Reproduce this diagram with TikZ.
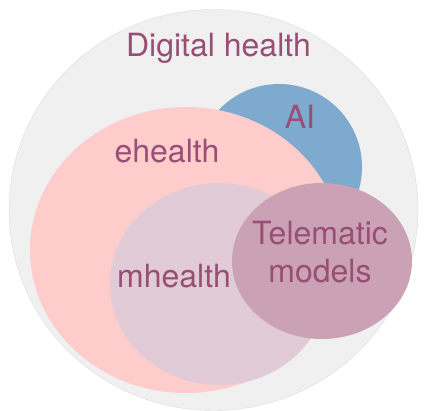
\documentclass[tikz,border=0pt]{standalone}
\usepackage{fontspec}
\setmainfont{TeX Gyre Heros}
\usetikzlibrary{shapes,positioning}
\definecolor{dhgray}{RGB}{240,240,240}
\definecolor{dhedge}{RGB}{220,220,220}
\definecolor{aiblue}{RGB}{126,170,207}
\definecolor{ehpink}{RGB}{255,204,204}
\definecolor{mhmauve}{RGB}{224,203,214}
\definecolor{tmrose}{RGB}{203,161,181}
\definecolor{txtplum}{RGB}{152,78,117}
\tikzstyle{set}=[ellipse,inner sep=0pt,outer sep=0pt]
\tikzstyle{setname}=[anchor=base,text=txtplum,inner sep=0pt,font=\fontsize{32}{38}\selectfont]

\begin{document}
\begin{tikzpicture}[x=1pt,y=-1pt]
\useasboundingbox (0,0) rectangle (426,411);

% First the sets, back to front
\node[set,fill=dhgray,draw=dhedge,line width=0.4pt,minimum width=409pt,minimum height=401pt] (digital) at (213.5,210) {};
\foreach \pos/\w/\h/\col/\name in {{(279,167)/166/166/aiblue/ai}, {(186,250)/312/286/ehpink/ehealth}, {(219,284)/218/202/mhmauve/mhealth}, {(322,261)/180/156/tmrose/telematic}}
\node[set,fill=\col,minimum width=\w pt,minimum height=\h pt] (\name) at \pos {};

% Then the names of the sets
\foreach \pos/\text/\name in {{(218.5,57)/Digital health/dhname}, {(300,129)/AI/ainame}, {(167,163)/ehealth/ehname}, {(174,288)/mhealth/mhname}, {(320,245)/Telematic/tmname}, {(320,283)/models/mdname}}
\node[setname] (\name) at \pos {\text};

\end{tikzpicture}
\end{document}
